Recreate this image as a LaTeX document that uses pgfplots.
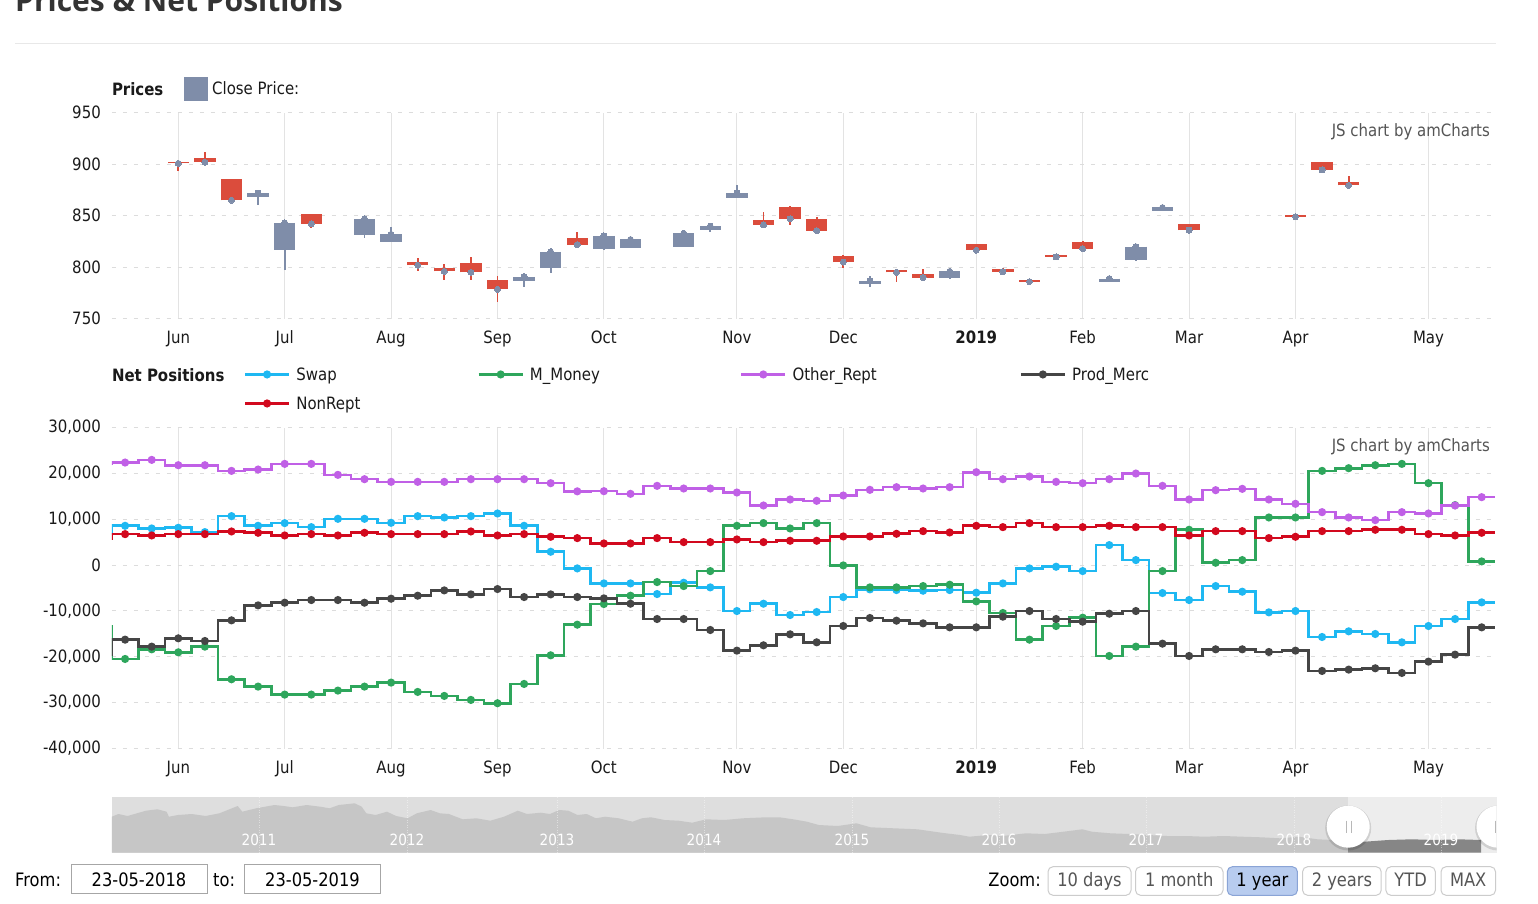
\documentclass[border=0pt]{standalone}
\usepackage{fontspec}
\setmainfont{DejaVu Sans}[FakeStretch=0.88]
\newfontfamily\titlefont{Open Sans}
\usepackage{pgfplots}
\usepackage{pgfplotstable}
\pgfplotsset{compat=1.18}

\definecolor{cBlue}{HTML}{7F8DA9}
\definecolor{cRed}{HTML}{DB4C3C}
\definecolor{cSwap}{HTML}{1EB8F2}
\definecolor{cMM}{HTML}{2EA65C}
\definecolor{cOther}{HTML}{C060E6}
\definecolor{cProd}{HTML}{454545}
\definecolor{cNon}{HTML}{D2091E}
\definecolor{titleC}{HTML}{333333}
\definecolor{sepC}{HTML}{E8E8E8}
\definecolor{txt}{HTML}{1A1A1A}
\definecolor{wmC}{HTML}{555555}
\definecolor{gridH}{HTML}{DCDCDC}
\definecolor{gridV}{HTML}{E3E3E3}
\definecolor{navBg}{HTML}{DEDEDE}
\definecolor{navFill}{HTML}{C6C6C6}
\definecolor{navSel}{HTML}{EDEDED}
\definecolor{navSelFill}{HTML}{868686}
\definecolor{boxC}{HTML}{A6A6A6}
\definecolor{btnC}{HTML}{CCCCCC}
\definecolor{btnT}{HTML}{555555}
\definecolor{selFill}{HTML}{B8CCEF}
\definecolor{selBorder}{HTML}{8AA4D6}

\newcommand\fsz[1]{\fontsize{#1pt}{#1pt}\selectfont}

% candles: x open high low close
\pgfplotstableread{
x open high low close
0 902.5 904 893 900.8
1 906.5 911.5 901 902
2 885.5 886 862.5 865
5 852 852 838 842
9 805.5 809 796 802
10 799.5 803 788 796
11 804 810 788 795
12 788 791 766 778.5
15 828 834 821 822
22 845.5 854 838 841
23 858 859 841 847
24 847 848.5 834 835.5
25 811 812 799.5 805
27 797 798 786 795
28 793.5 798 789.5 790
30 822.5 823 815 816.5
31 798.5 799 794 795.5
32 788 788.5 785 786
33 812 813 809 810
34 824 825 817 818
38 841.5 842 835 836
42 851 851.5 848 849
43 902 902.5 893 894.5
44 883 888.5 879 879.5
}\redC

\pgfplotstableread{
x open high low close
3 868 875 860 872
4 816.5 845 797 843
7 831 849 828 847
8 824 839 824 832
13 787 794 781 790.5
14 799 819 794 815
16 817.5 833 817 830.5
17 819 829 819 827
19 820 836 820 833
20 836 843 834 840
21 867 880 867 872
26 784 791 780.5 786.5
29 789.5 798 789 796
35 786 791 785.5 789
36 807 822 806 820
37 855 861 855 858
}\blueC

\pgfplotstableread{
x swap mm other prod non
-3 6900 -13400 22070 -19600 5800
-2 8567 -20473 22361 -16262 6752
-1 7986 -18368 22942 -17787 6461
0 8131 -19021 21780 -15972 6752
1 7187 -17787 21780 -16553 6752
2 10672 -24902 20546 -12052 7333
3 8567 -26499 20836 -8785 7042
4 9148 -28241 22070 -8204 6461
5 8276 -28241 22070 -7623 6752
6 10091 -27370 19675 -7623 6461
7 10091 -26499 18731 -8204 7042
8 9220 -25628 18150 -7333 6752
9 10672 -27661 18150 -6679 6752
10 10382 -28532 18150 -5518 6752
11 10672 -29403 18731 -6389 7333
12 11253 -30129 18731 -5227 6461
13 8567 -25918 18731 -6970 6752
14 2904 -19675 17860 -6389 6171
15 -726 -12995 16080 -6970 5881
16 -3993 -8494 16117 -7260 4719
17 -3993 -6679 15536 -8422 4719
18 -6316 -3703 17279 -11761 5881
19 -3848 -4574 16698 -11761 5009
20 -4864 -1307 16698 -14157 5009
21 -10019 8567 15827 -18658 5590
22 -8422 9148 12995 -17497 5009
23 -10890 7986 14302 -15101 5300
24 -10237 9148 14012 -16843 5300
25 -6970 -73 15173 -13286 6244
26 -5300 -4864 16408 -11543 6244
27 -5445 -4864 16988 -12124 6824
28 -5590 -4574 16698 -12705 7405
29 -5445 -4283 16988 -13576 7115
30 -6026 -7913 20255 -13576 8567
31 -3993 -10454 18731 -11253 8276
32 -726 -16262 19312 -10019 9148
33 -363 -13286 18150 -11761 8276
34 -1307 -11471 17860 -12342 8276
35 4356 -19820 18731 -10600 8567
36 1089 -17787 19965 -10019 8276
37 -6098 -1307 17279 -17134 8276
38 -7623 7696 14302 -19820 6461
39 -4574 508 16335 -18368 7405
40 -5808 1089 16625 -18368 7405
41 -10309 10382 14302 -18949 5881
42 -10019 10382 13358 -18658 6171
43 -15682 20546 11543 -23087 7405
44 -14447 21127 10382 -22796 7405
45 -15028 21780 9801 -22506 7696
46 -16843 22070 11543 -23522 7696
47 -13286 17860 11253 -21054 6752
48 -11761 13068 12995 -19529 6461
49 -8131 799 14810 -13576 7042
50 -8131 799 14810 -13576 7042
}\netpos

\pgfplotstableread{
x y
111.8 35.8
118.4 38.5
127.5 36.5
145.9 41.8
157.4 43.2
166.6 40.8
168.9 35.8
178 37.5
191.8 38.5
205.6 36.5
219.4 39.2
237.7 46.5
242.3 40.8
256.1 44.2
274.5 47.5
283.7 46.5
292.8 45.2
306.6 47.5
320.4 45.8
329.6 44.2
338.8 47.5
354.8 49.2
361.7 45.8
366.3 39.2
375.5 37.5
387 40.8
396.1 36.5
407.6 34.2
416.8 39.2
430.6 42.5
439.8 39.2
448.9 38.5
462.7 33.2
476.5 34.2
490.3 31.8
504 35.8
517.8 41.8
527 38.5
540.8 39.8
550 38.5
559.1 42.5
568.3 41.8
577.5 37.5
586.7 38.5
595.9 34.2
605 35.8
618.8 34.2
632.6 30.8
641.8 34.2
651 35.2
664.7 32.5
678.5 31.8
692.3 29.8
706.1 33.2
724.4 32.5
742.8 34.2
765.7 35.2
779.5 35.2
793.3 33.2
807 30.8
818.8 27.5
837.6 26.5
856.5 29.2
870.6 25.2
894.1 24.2
917.6 23.2
941.2 19.8
960 17.5
969.4 15.8
988.2 17.5
1002.4 16.5
1025.9 19.2
1044.7 18.5
1063.5 20.8
1082.4 23.2
1091.8 20.8
1110.6 19.2
1129.4 18.5
1148.2 17.5
1167.1 16.5
1185.9 16.5
1204.7 15.8
1223.5 16.5
1242.4 15.8
1261.2 15.2
1280 14.2
1298.8 15.8
1317.6 13.2
1348.2 11.8
}\navA

\pgfplotstableread{
x y
1348.2 11.8
1364.7 10.8
1388.2 12.5
1411.8 13.2
1435.3 12.5
1458.8 13.2
1481 12.5
}\navB

\pgfplotsset{
  panel/.style={
    scale only axis, width=1383.2pt,
    xmin=-2.5, xmax=49.5,
    axis line style={draw=none},
    tick style={draw=none},
    major tick length=0pt,
    xtick={0,4,8,12,16,21,25,30,34,38,42,47},
    xticklabels={Jun,Jul,Aug,Sep,Oct,Nov,Dec,\textbf{2019},Feb,Mar,Apr,May},
    xmajorgrids, ymajorgrids,
    x grid style={color=gridV, line width=1pt},
    y grid style={color=gridH, line width=1pt, dash pattern=on 4pt off 7pt},
    tick label style={font=\fsz{17}, text=txt, inner sep=0pt},
    xticklabel style={anchor=base, yshift=-25pt},
    yticklabel style={anchor=east, xshift=-10.8pt},
    /pgf/number format/assume math mode=true,
    /pgf/number format/1000 sep={,},
    scaled y ticks=false,
    clip=true,
  },
  netline/.style={line width=2.6pt, const plot mark mid, mark=*, mark size=2.7pt,
    mark options={fill=#1, draw=none}, color=#1},
}

\begin{document}
\begin{tikzpicture}
\useasboundingbox (0pt,0pt) rectangle (1538pt,-904pt);
\fill[white] (0pt,0pt) rectangle (1538pt,-904pt);

% title and separator
\node[anchor=base west, inner sep=0pt, text=titleC] at (15pt,-11.7pt) {\titlefont\bfseries\fsz{30}Prices \& Net Positions};
\draw[sepC, line width=1pt] (15pt,-43.3pt) -- (1496pt,-43.3pt);

% ---------- Prices panel ----------
\node[anchor=base west, inner sep=0pt, text=txt] at (111.8pt,-95.4pt) {\fsz{17}\bfseries Prices};

\begin{axis}[panel, at={(111.8pt,-318.7pt)}, anchor=south west, height=206pt,
  ymin=750, ymax=950, ytick={750,800,850,900,950},
  legend style={at={(0.052053,1.1165)}, anchor=west, draw=none, fill=none,
    inner sep=0pt, outer sep=0pt, column sep=5pt,
    nodes={inner sep=0pt, text height=12.4pt, text depth=0pt, font=\fsz{17}, text=txt}},
  legend cell align=left]
% wicks
\addplot[draw=none, mark=none, forget plot,
  error bars/.cd, y dir=both, y explicit, error mark=none,
  error bar style={draw=cRed, line width=1.8pt}]
  table[x=x, y=close, y error plus expr=\thisrow{high}-\thisrow{close},
        y error minus expr=\thisrow{close}-\thisrow{low}] {\redC};
\addplot[draw=none, mark=none, forget plot,
  error bars/.cd, y dir=both, y explicit, error mark=none,
  error bar style={draw=cBlue, line width=1.8pt}]
  table[x=x, y=close, y error plus expr=\thisrow{high}-\thisrow{close},
        y error minus expr=\thisrow{close}-\thisrow{low}] {\blueC};
% bodies
\addplot[draw=none, mark=none, forget plot,
  error bars/.cd, y dir=both, y explicit, error mark=none,
  error bar style={draw=cRed, line width=21.5pt}]
  table[x=x, y=close, y error plus expr=\thisrow{open}-\thisrow{close},
        y error minus expr=0] {\redC};
\addplot[draw=none, mark=none, forget plot,
  error bars/.cd, y dir=both, y explicit, error mark=none,
  error bar style={draw=cBlue, line width=21.5pt}]
  table[x=x, y=close, y error plus expr=0,
        y error minus expr=\thisrow{close}-\thisrow{open}] {\blueC};
% close dots
\addplot[color=cBlue, only marks, mark=*, mark size=3pt, mark options={fill=cBlue, draw=cBlue, line width=0pt}, forget plot]
  table[x=x, y=close] {\redC};
\addplot[color=cBlue, only marks, mark=*, mark size=3pt, mark options={fill=cBlue, draw=cBlue, line width=0pt},
  legend image code/.code={\fill[cBlue] (0pt,-11.5pt) rectangle (23pt,11.5pt);}]
  table[x=x, y=close] {\blueC};
\addlegendentry{Close Price:}
\end{axis}
\node[anchor=base east, inner sep=0pt, text=wmC] at (1490pt,-136.2pt) {\fsz{17}JS chart by amCharts};

% ---------- Net positions panel ----------
\node[anchor=base west, inner sep=0pt, text=txt] at (111.8pt,-381.2pt) {\fsz{17}\bfseries Net Positions};

\begin{axis}[panel, at={(111.8pt,-748.5pt)}, anchor=south west, height=321pt,
  ymin=-40000, ymax=30000,
  ytick={-40000,-30000,-20000,-10000,0,10000,20000,30000},
  legend style={at={(0.095431,1.1846)}, anchor=north west, draw=none, fill=none,
    inner sep=0pt, outer sep=0pt, legend columns=4, column sep=6pt, row sep=16.6pt,
    nodes={inner sep=0pt, text height=12.4pt, text depth=0pt, font=\fsz{17}, text=txt}},
  legend cell align=left,
  legend image code/.code={\draw[#1, mark repeat=2, mark phase=2] plot coordinates {(0pt,0pt) (22pt,0pt) (44pt,0pt)};}]
\addplot[netline=cSwap] table[x=x, y=swap] {\netpos};
\addlegendentry{\makebox[175pt][l]{Swap}}
\addplot[netline=cMM] table[x=x, y=mm] {\netpos};
\addlegendentry{\makebox[204pt][l]{M\_Money}}
\addplot[netline=cOther] table[x=x, y=other] {\netpos};
\addlegendentry{\makebox[221pt][l]{Other\_Rept}}
\addplot[netline=cProd] table[x=x, y=prod] {\netpos};
\addlegendentry{Prod\_Merc}
\addplot[netline=cNon] table[x=x, y=non] {\netpos};
\addlegendentry{\makebox[175pt][l]{NonRept}}
\end{axis}
\node[anchor=base east, inner sep=0pt, text=wmC] at (1490pt,-451.2pt) {\fsz{17}JS chart by amCharts};

% ---------- Navigator ----------
\fill[navBg] (111.8pt,-797pt) rectangle (1496.5pt,-852.5pt);
\fill[navSel] (1348.2pt,-797pt) rectangle (1496.5pt,-852.5pt);
\begin{axis}[at={(111.8pt,-852.5pt)}, anchor=south west, scale only axis,
  width=1384.7pt, height=55.5pt, xmin=111.8, xmax=1496.5, ymin=0, ymax=55.5,
  hide axis, clip=true]
\addplot[fill=navFill, draw=none] table[x=x, y=y] {\navA} \closedcycle;
\addplot[fill=navSelFill, draw=none] table[x=x, y=y] {\navB} \closedcycle;
\end{axis}
\foreach \yx/\yl in {259/2011, 407/2012, 557/2013, 704/2014, 852/2015, 999/2016, 1146/2017, 1294/2018, 1441/2019} {
  \draw[white, opacity=0.45, line width=0.8pt, dash pattern=on 1pt off 1.5pt] (\yx pt,-797pt) -- (\yx pt,-852.5pt);
  \node[anchor=base, inner sep=0pt, text=white] at (\yx pt,-845pt) {\fsz{15.5}\yl};
}
\begin{scope}
  \clip (1300pt,-790pt) rectangle (1496.5pt,-860pt);
  \fill[black, opacity=0.12] (1348.2pt,-828pt) ellipse (23pt and 22.5pt);
  \fill[white] (1348.2pt,-826.7pt) ellipse (21.5pt and 21pt);
  \draw[black!28, line width=1pt] (1346pt,-820.7pt) -- (1346pt,-833.3pt) (1351pt,-820.7pt) -- (1351pt,-833.3pt);
  \fill[black, opacity=0.12] (1498pt,-828pt) ellipse (23pt and 22.5pt);
  \fill[white] (1498pt,-826.7pt) ellipse (21.5pt and 21pt);
  \draw[black!28, line width=1pt] (1495.5pt,-820.7pt) -- (1495.5pt,-833.3pt);
\end{scope}

% ---------- Period selector ----------
\node[anchor=base west, inner sep=0pt, text=black] at (15pt,-886.6pt) {\fsz{18.5}From:};
\draw[boxC, line width=1pt] (71pt,-864.5pt) rectangle (207pt,-893.5pt);
\node[anchor=base, inner sep=0pt, text=black] at (139pt,-886.6pt) {\fsz{18.5}23-05-2018};
\node[anchor=base west, inner sep=0pt, text=black] at (213pt,-886.6pt) {\fsz{18.5}to:};
\draw[boxC, line width=1pt] (244.5pt,-864.5pt) rectangle (380.5pt,-893.5pt);
\node[anchor=base, inner sep=0pt, text=black] at (312.5pt,-886.6pt) {\fsz{18.5}23-05-2019};

\node[anchor=base east, inner sep=0pt, text=black] at (1041pt,-886.7pt) {\fsz{18.5}Zoom:};
\draw[btnC, line width=1pt, rounded corners=5pt] (1048pt,-866.7pt) rectangle (1131pt,-895.3pt);
\node[anchor=base, inner sep=0pt, text=btnT] at (1089.5pt,-886.7pt) {\fsz{18.5}10 days};
\draw[btnC, line width=1pt, rounded corners=5pt] (1135.5pt,-866.7pt) rectangle (1223pt,-895.3pt);
\node[anchor=base, inner sep=0pt, text=btnT] at (1179.2pt,-886.7pt) {\fsz{18.5}1 month};
\filldraw[fill=selFill, draw=selBorder, line width=1pt, rounded corners=5pt] (1227.3pt,-866.7pt) rectangle (1297.4pt,-895.3pt);
\node[anchor=base, inner sep=0pt, text=black] at (1262.3pt,-886.7pt) {\fsz{18.5}1 year};
\draw[btnC, line width=1pt, rounded corners=5pt] (1302.6pt,-866.7pt) rectangle (1381.2pt,-895.3pt);
\node[anchor=base, inner sep=0pt, text=btnT] at (1341.9pt,-886.7pt) {\fsz{18.5}2 years};
\draw[btnC, line width=1pt, rounded corners=5pt] (1385.9pt,-866.7pt) rectangle (1435.3pt,-895.3pt);
\node[anchor=base, inner sep=0pt, text=btnT] at (1410.6pt,-886.7pt) {\fsz{18.5}YTD};
\draw[btnC, line width=1pt, rounded corners=5pt] (1441pt,-866.7pt) rectangle (1495.5pt,-895.3pt);
\node[anchor=base, inner sep=0pt, text=btnT] at (1468.2pt,-886.7pt) {\fsz{18.5}MAX};
\end{tikzpicture}
\end{document}
